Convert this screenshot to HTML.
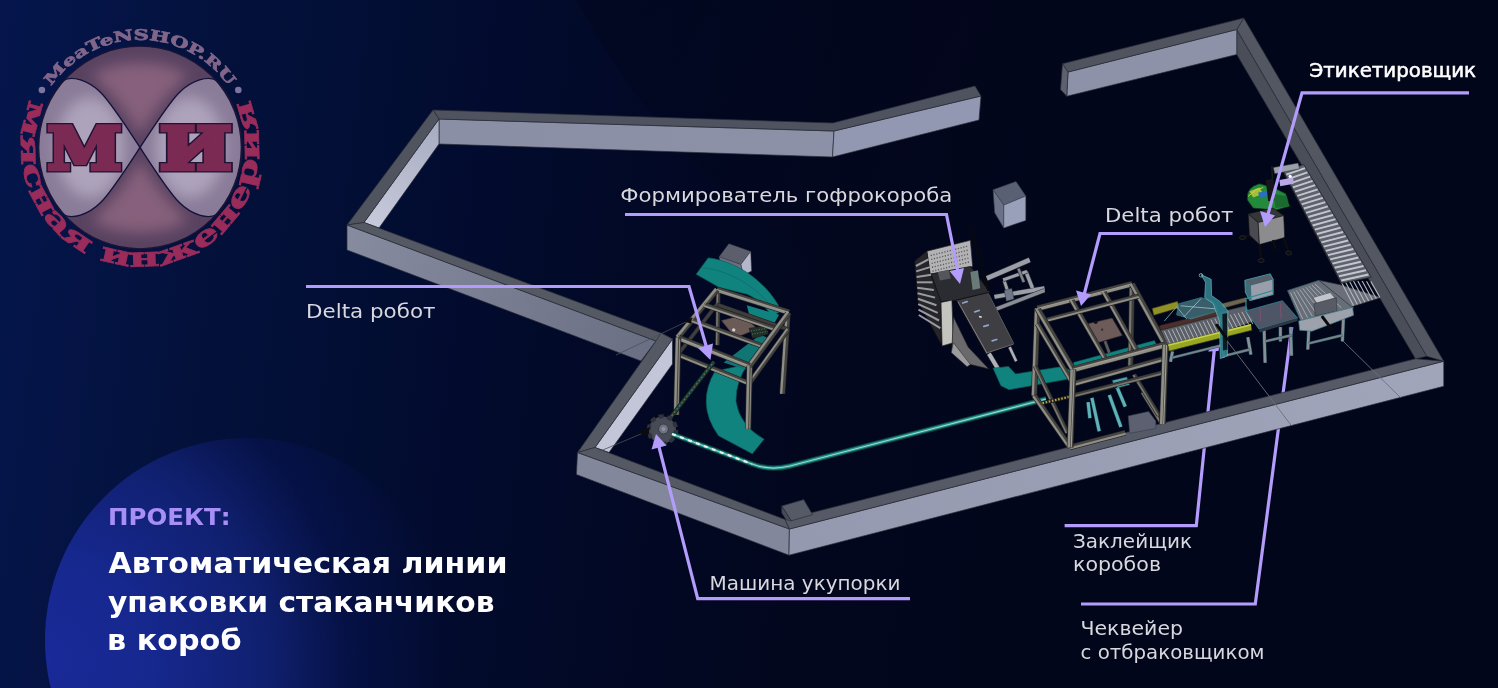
<!DOCTYPE html>
<html lang="ru">
<head>
<meta charset="utf-8">
<title>Автоматическая линии упаковки стаканчиков в короб</title>
<style>
html,body{margin:0;padding:0}
body{width:1498px;height:688px;overflow:hidden;position:relative;background:#02061b;font-family:"DejaVu Sans","Liberation Sans",sans-serif}
#bg{position:absolute;left:0;top:0;width:1498px;height:688px;background:linear-gradient(97deg,#05164d 0%,#03113b 15%,#020c30 30%,#020926 42%,#02071e 55%,#02061a 75%,#02061a 100%)}
#orb{position:absolute;left:45px;top:438px;width:404px;height:404px;border-radius:50%;background:radial-gradient(circle 400px at 0% 55%,#192a99 0%,#16278d 28%,#10206f 55%,rgba(8,20,84,.55) 76%,rgba(3,10,48,0) 100%)}
#orb2{position:absolute;left:496px;top:-1026px;width:1400px;height:1400px;border-radius:50%;background:linear-gradient(120deg,rgba(1,4,22,.7) 0%,rgba(1,4,22,.55) 22%,rgba(1,4,22,.28) 38%,rgba(1,4,22,0) 55%)}
#scene{position:absolute;left:0;top:0;will-change:transform}
.lbl{position:absolute;white-space:nowrap;color:#dcdce2;font-size:20.6px;line-height:24px;font-weight:400}
.h{position:absolute;white-space:nowrap;font-weight:700}
</style>
</head>
<body>
<div id="bg"></div>
<div id="orb"></div>
<div id="orb2"></div>
<svg id="scene" width="1498" height="688" viewBox="0 0 1498 688">
<!--L0-->
<defs>
<radialGradient id="lobeL" cx="98" cy="147.5" r="66" gradientUnits="userSpaceOnUse"><stop offset="0" stop-color="#aaa0b8"/><stop offset="0.6" stop-color="#a297b0"/><stop offset="1" stop-color="#86768f"/></radialGradient>
<radialGradient id="lobeR" cx="182" cy="147.5" r="66" gradientUnits="userSpaceOnUse"><stop offset="0" stop-color="#aaa0b8"/><stop offset="0.6" stop-color="#a297b0"/><stop offset="1" stop-color="#86768f"/></radialGradient>
<radialGradient id="discG" cx="140" cy="147.5" r="101.3" gradientUnits="userSpaceOnUse"><stop offset="0" stop-color="#6b4a66"/><stop offset="0.35" stop-color="#7b566f"/><stop offset="0.8" stop-color="#7d5872"/><stop offset="1" stop-color="#5e4560"/></radialGradient>
<path id="arcTop" d="M32.4,147.5 A107.6,107.6 0 0 1 247.6,147.5"/>
<path id="arcBot" d="M42.5,79.2 A119.0,119.0 0 1 0 237.5,79.2"/>
</defs>
<g id="logo">
<defs>
<filter id="bl8" x="-30%" y="-30%" width="160%" height="160%"><feGaussianBlur stdDeviation="7"/></filter>
<clipPath id="cDisc"><circle cx="140" cy="147.5" r="101.3"/></clipPath>
<clipPath id="cLobes"><path d="M140,147.5 C154,126 169,102.5 179.6,92.2 C192,80 208,75.5 216.5,80.3 A101.3,101.3 0 0 1 216.5,214.7 C208,219.5 192,215.0 179.6,202.8 C169,192.5 154,169.0 140,147.5 Z"/><path d="M140,147.5 C126,126 111,102.5 100.4,92.2 C88,80 72,75.5 63.5,80.3 A101.3,101.3 0 0 0 63.5,214.7 C72,219.5 88,215.0 100.4,202.8 C111,192.5 126,169.0 140,147.5 Z"/></clipPath>
</defs>
<circle cx="140" cy="147.5" r="101.3" fill="#584260"/>
<g clip-path="url(#cDisc)"><g filter="url(#bl8)" fill="#86617c">
<path d="M140,135 C128,115 112,92 92,76 C110,58 170,58 188,76 C168,92 152,115 140,135 Z"/>
<path d="M140,160 C128,180 112,203 92,219 C110,237 170,237 188,219 C168,203 152,180 140,160 Z"/>
</g></g>
<path d="M140,147.5 C154,126 169,102.5 179.6,92.2 C192,80 208,75.5 216.5,80.3 A101.3,101.3 0 0 1 216.5,214.7 C208,219.5 192,215.0 179.6,202.8 C169,192.5 154,169.0 140,147.5 Z" fill="#8a7c99"/>
<path d="M140,147.5 C126,126 111,102.5 100.4,92.2 C88,80 72,75.5 63.5,80.3 A101.3,101.3 0 0 0 63.5,214.7 C72,219.5 88,215.0 100.4,202.8 C111,192.5 126,169.0 140,147.5 Z" fill="#8a7c99"/>
<g clip-path="url(#cLobes)"><g filter="url(#bl8)" fill="#ada3bb">
<ellipse cx="90" cy="147.5" rx="34" ry="50"/>
<ellipse cx="190" cy="147.5" rx="34" ry="50"/>
</g></g>
<path d="M140,147.5 C154,126 169,102.5 179.6,92.2 C192,80 208,75.5 216.5,80.3 A101.3,101.3 0 0 1 216.5,214.7 C208,219.5 192,215.0 179.6,202.8 C169,192.5 154,169.0 140,147.5 Z" fill="none" stroke="#15133a" stroke-width="1.4"/>
<path d="M140,147.5 C126,126 111,102.5 100.4,92.2 C88,80 72,75.5 63.5,80.3 A101.3,101.3 0 0 0 63.5,214.7 C72,219.5 88,215.0 100.4,202.8 C111,192.5 126,169.0 140,147.5 Z" fill="none" stroke="#15133a" stroke-width="1.4"/>
<circle cx="140" cy="147.5" r="101.3" fill="none" stroke="#1a1536" stroke-width="1.3"/>
<g font-family="'DejaVu Serif','Liberation Serif',serif" font-weight="700" font-size="58.5" stroke-linejoin="miter">
<g fill="#211334" stroke="#211334" stroke-width="7"><text x="47.5" y="168.8" textLength="74" lengthAdjust="spacingAndGlyphs">М</text><text x="159.8" y="168.8" textLength="72" lengthAdjust="spacingAndGlyphs">И</text></g>
<g fill="#7b2a53" stroke="#7b2a53" stroke-width="4.4"><text x="47.5" y="168.8" textLength="74" lengthAdjust="spacingAndGlyphs">М</text><text x="159.8" y="168.8" textLength="72" lengthAdjust="spacingAndGlyphs">И</text></g>
</g>
<text font-family="'DejaVu Serif','Liberation Serif',serif" font-weight="700" font-size="14.5" fill="#82668a" stroke="#82668a" stroke-width="0.7"><textPath href="#arcTop" startOffset="50%" text-anchor="middle" textLength="208" lengthAdjust="spacingAndGlyphs">MeaTeNSHOP.RU</textPath></text>
<text font-family="'DejaVu Serif','Liberation Serif',serif" font-weight="700" font-size="27" fill="#992c5a" stroke="#992c5a" stroke-width="0.8"><textPath href="#arcBot" startOffset="50%" text-anchor="middle" textLength="471" lengthAdjust="spacingAndGlyphs">мясная инженерия</textPath></text>
<circle cx="41.9" cy="90" r="3.3" fill="#8073a0"/>
<circle cx="238.3" cy="90" r="3.3" fill="#8073a0"/>
</g>
<!--L1-->
<g id="leaders-under" fill="none" stroke="#b39cfb" stroke-width="3.2" stroke-linejoin="miter">
<polyline points="1064.6,525.7 1196.3,525.7 1214.4,349"/>
<polyline points="1081,604 1255.3,604 1291.8,327"/>
<polygon points="1208,351.5 1211.5,346.5 1219.5,345.5 1218.5,351" fill="#b39cfb" stroke="none"/>
</g>
<g id="walls" stroke-linejoin="round" stroke="#2b2e39" stroke-width="0.7">
<defs>
<linearGradient id="gSW" x1="347" y1="238" x2="650" y2="350" gradientUnits="userSpaceOnUse"><stop offset="0" stop-color="#868ba0"/><stop offset="0.5" stop-color="#787d92"/><stop offset="1" stop-color="#6a6f84"/></linearGradient>
<linearGradient id="gNW" x1="372" y1="225" x2="439" y2="125" gradientUnits="userSpaceOnUse"><stop offset="0" stop-color="#c6c9da"/><stop offset="1" stop-color="#a9adc2"/></linearGradient>
<linearGradient id="gN" x1="439" y1="130" x2="832" y2="145" gradientUnits="userSpaceOnUse"><stop offset="0" stop-color="#8a8fa5"/><stop offset="1" stop-color="#8c91a8"/></linearGradient>
<linearGradient id="gS" x1="790" y1="540" x2="1443" y2="374" gradientUnits="userSpaceOnUse"><stop offset="0" stop-color="#9499af"/><stop offset="1" stop-color="#a0a5ba"/></linearGradient>
</defs>
<!-- north wall -->
<polygon points="439,119 834,131 832.5,157 439,144" fill="url(#gN)"/>
<polygon points="834,131 981,96 979,120 832.5,157" fill="#9298b1"/>
<polygon points="433,110 833,123 975,86 981,96 834,131 439,119" fill="#4f535f"/>
<!-- north-west wall -->
<polygon points="439,119 439,144 379,228 364,222.5" fill="url(#gNW)"/>
<polygon points="433,110 439,119 364,222.5 347,225" fill="#50545f"/>
<!-- south-west wall -->
<polygon points="347,225 656,341 641,361 347,250" fill="url(#gSW)"/>
<polygon points="364,222.5 661,333 672.5,339 656,341 347,225" fill="#555964"/>
<!-- notch wall -->
<polygon points="672.5,339 672.5,364 609,452.5 595,447.5" fill="#c3c6d8"/>
<polygon points="661,333 672.5,339 595,447.5 577.5,452.5 656,341" fill="#555964"/>
<!-- south wall left -->
<polygon points="577.5,452.5 789.4,529 789,555.2 576.4,474.5" fill="#82879b"/>
<polygon points="577.5,452.5 595,447.5 785,519.5 789.4,529" fill="#555964"/>
<!-- south wall right -->
<polygon points="789.4,529 1443.75,361.25 1443.75,386.25 789,555.2" fill="url(#gS)"/>
<polygon points="785,519.5 1415.5,358.75 1443.75,361.25 789.4,529" fill="#565a66"/>
<!-- corner block -->
<polygon points="781.6,506 803.7,499.6 812.6,514.7 791.3,520.8" fill="#565a67"/>
<polygon points="781.6,506 791.3,520.8 786,519.8 781.8,513" fill="#484c58"/>
<!-- east wall -->
<polygon points="1236.75,29.5 1426.75,356.25 1415.5,358.75 1236.75,54.5" fill="#4a4e59"/>
<polygon points="1243.75,18 1443.75,361.25 1426.75,356.25 1236.75,29.5" fill="#535762"/>
<!-- north-east wall -->
<polygon points="1068,72 1236.75,29.5 1236.75,54.5 1066.75,96.25" fill="#8d92a9"/>
<polygon points="1062.5,63.75 1243.75,18 1236.75,29.5 1068,72" fill="#50545f"/>
<polygon points="1062.5,63.75 1068,72 1066.75,96.25 1060.5,89.5" fill="#5d616d"/>
<!-- thin floor lines -->
</g>
<!--M0-->
<g id="machines" stroke-linejoin="round">
<g id="robot1">
<polygon points="719.1,256.8 728.9,243.7 750.7,251.4 740.9,264.4" fill="#5c5f6b" stroke="#3a3d48" stroke-width="0.5"/>
<polygon points="740.9,264.4 750.7,251.4 751.6,271.0 743.1,275.3" fill="#b4b7ca" stroke="#3a3d48" stroke-width="0.5"/>
<polygon points="719.1,256.8 740.9,264.4 743.1,275.3 721.3,267.7" fill="#6a6e80" stroke="#3a3d48" stroke-width="0.5"/>
<path d="M696.2,274.3 L708.2,257.9 C726.7,259.4 759.4,273.2 778.4,305.2 L779.5,311.8 L772.1,316.8 C766.0,307.0 757.2,298.7 747.4,294.3 L719.1,287.3 Z" fill="#11837f" stroke="#0b5e5c" stroke-width="0.7"/>
<path d="M702.7,267.7 C726.7,269.9 757.2,285.2 774.7,311.3" fill="none" stroke="#0d6d6a" stroke-width="0.8"/>
<path d="M715.0,371.2 Q695.8,404.3 718.5,435.7 L752.3,453.8 L764.1,439.2 Q739.4,425.3 735.9,400.9 Q735.9,379.9 748.1,364.2 Z" fill="#11837f" stroke="#0b5e5c" stroke-width="0.7"/>
<polygon points="723.7,362.5 760.3,334.6 769.7,338.8 744.6,369.5" fill="#0f7673"/>
<polyline points="718.3,290.0 717.4,345.1" fill="none" stroke="#23242a" stroke-width="4.6" stroke-linecap="butt"/>
<polyline points="718.3,290.0 717.4,345.1" fill="none" stroke="#3f3e3a" stroke-width="3.4" stroke-linecap="butt"/>
<polyline points="717.5,290.0 716.6,345.1" fill="none" stroke="#77766f" stroke-width="1.564" stroke-linecap="butt"/>
<polyline points="787.6999999999999,314.4 782.3,393.9" fill="none" stroke="#23242a" stroke-width="6.0" stroke-linecap="butt"/>
<polyline points="787.6999999999999,314.4 782.3,393.9" fill="none" stroke="#45443f" stroke-width="4.8" stroke-linecap="butt"/>
<polyline points="786.6,314.3 781.2,393.8" fill="none" stroke="#908f87" stroke-width="2.208" stroke-linecap="butt"/>
<polygon points="746.8,305.2 779.1,314.8 774.3,323.3 749.0,314.0" fill="#11837f"/>
<polygon points="721.3,320.5 742.0,315.3 757.7,328.8 735.4,337.9" fill="#6b5a56" stroke="#2c2826" stroke-width="0.6"/>
<circle cx="733.7" cy="329.9" r="1.7" fill="#d6d2cc"/>
<polygon points="749.0,328.3 766.0,325.5 768.6,334.2 752.4,338.6" fill="#262c2a" stroke="#111" stroke-width="0.4"/>
<polyline points="751.1,331.0 766.8,328.3" fill="none" stroke="#3f9a62" stroke-width="0.9" stroke-dasharray="1 1.6"/>
<polyline points="752.0,334.2 767.7,331.4" fill="none" stroke="#3f9a62" stroke-width="0.9" stroke-dasharray="1 1.6"/>
<polyline points="716.9,304.5 788.1,329.4" fill="none" stroke="#23242a" stroke-width="4.2" stroke-linecap="butt"/>
<polyline points="716.9,304.5 788.1,329.4" fill="none" stroke="#3f3e3a" stroke-width="3" stroke-linecap="butt"/>
<polyline points="677.9,354.5 716.9,304.5" fill="none" stroke="#23242a" stroke-width="4.2" stroke-linecap="butt"/>
<polyline points="677.9,354.5 716.9,304.5" fill="none" stroke="#3f3e3a" stroke-width="3" stroke-linecap="butt"/>
<polyline points="716.9,289.5 788.9,312.4" fill="none" stroke="#23242a" stroke-width="6.0" stroke-linecap="butt"/>
<polyline points="716.9,289.5 788.9,312.4" fill="none" stroke="#45443f" stroke-width="4.8" stroke-linecap="butt"/>
<polyline points="716.6,290.6 788.6,313.5" fill="none" stroke="#908f87" stroke-width="2.208" stroke-linecap="butt"/>
<polyline points="677.6,337.5 716.9,289.5" fill="none" stroke="#23242a" stroke-width="6.0" stroke-linecap="butt"/>
<polyline points="677.6,337.5 716.9,289.5" fill="none" stroke="#45443f" stroke-width="4.8" stroke-linecap="butt"/>
<polyline points="676.7,336.8 716.0,288.8" fill="none" stroke="#908f87" stroke-width="2.208" stroke-linecap="butt"/>
<polyline points="691.7,320.2 763.7,346.6" fill="none" stroke="#23242a" stroke-width="5.2" stroke-linecap="butt"/>
<polyline points="691.7,320.2 763.7,346.6" fill="none" stroke="#45443f" stroke-width="4" stroke-linecap="butt"/>
<polyline points="691.4,321.1 763.4,347.5" fill="none" stroke="#908f87" stroke-width="1.84" stroke-linecap="butt"/>
<polyline points="704.3,304.9 776.3,329.5" fill="none" stroke="#23242a" stroke-width="5.2" stroke-linecap="butt"/>
<polyline points="704.3,304.9 776.3,329.5" fill="none" stroke="#45443f" stroke-width="4" stroke-linecap="butt"/>
<polyline points="704.0,305.8 776.0,330.4" fill="none" stroke="#908f87" stroke-width="1.84" stroke-linecap="butt"/>
<polyline points="788.9,312.4 749.6,365.9" fill="none" stroke="#23242a" stroke-width="6.2" stroke-linecap="butt"/>
<polyline points="788.9,312.4 749.6,365.9" fill="none" stroke="#45443f" stroke-width="5" stroke-linecap="butt"/>
<polyline points="787.9,311.7 748.6,365.2" fill="none" stroke="#908f87" stroke-width="2.3000000000000003" stroke-linecap="butt"/>
<polyline points="677.6,337.5 749.6,365.9" fill="none" stroke="#23242a" stroke-width="6.2" stroke-linecap="butt"/>
<polyline points="677.6,337.5 749.6,365.9" fill="none" stroke="#45443f" stroke-width="5" stroke-linecap="butt"/>
<polyline points="677.2,338.6 749.2,367.0" fill="none" stroke="#908f87" stroke-width="2.3000000000000003" stroke-linecap="butt"/>
<polyline points="716.9,289.5 788.9,312.4" fill="none" stroke="#a09f96" stroke-width="0.9"/>
<polyline points="677.6,337.5 749.6,365.9" fill="none" stroke="#a09f96" stroke-width="1.1"/>
<polyline points="677.6,337.5 716.9,289.5" fill="none" stroke="#8f8e84" stroke-width="0.8"/>
<polyline points="677.9,354.5 749.3000000000001,383.4" fill="none" stroke="#23242a" stroke-width="5.2" stroke-linecap="butt"/>
<polyline points="677.9,354.5 749.3000000000001,383.4" fill="none" stroke="#45443f" stroke-width="4" stroke-linecap="butt"/>
<polyline points="677.5,355.4 748.9,384.3" fill="none" stroke="#908f87" stroke-width="1.84" stroke-linecap="butt"/>
<polyline points="749.3000000000001,383.4 788.1,329.4" fill="none" stroke="#23242a" stroke-width="5.2" stroke-linecap="butt"/>
<polyline points="749.3000000000001,383.4 788.1,329.4" fill="none" stroke="#45443f" stroke-width="4" stroke-linecap="butt"/>
<polyline points="748.5,382.8 787.3,328.8" fill="none" stroke="#908f87" stroke-width="1.84" stroke-linecap="butt"/>
<polyline points="678.2,337.5 676.3,414.8" fill="none" stroke="#23242a" stroke-width="6.2" stroke-linecap="butt"/>
<polyline points="678.2,337.5 676.3,414.8" fill="none" stroke="#45443f" stroke-width="5" stroke-linecap="butt"/>
<polyline points="677.0,337.5 675.1,414.8" fill="none" stroke="#908f87" stroke-width="2.3000000000000003" stroke-linecap="butt"/>
<polyline points="749.6,365.9 748.1,428.7" fill="none" stroke="#23242a" stroke-width="6.4" stroke-linecap="butt"/>
<polyline points="749.6,365.9 748.1,428.7" fill="none" stroke="#45443f" stroke-width="5.2" stroke-linecap="butt"/>
<polyline points="748.4,365.9 746.9,428.7" fill="none" stroke="#908f87" stroke-width="2.3920000000000003" stroke-linecap="butt"/>
<polyline points="679.6,339.5 677.9,414.8" fill="none" stroke="#94938a" stroke-width="0.9"/>
<polyline points="751.2,367.9 749.7,428.7" fill="none" stroke="#94938a" stroke-width="0.9"/>
<polyline points="664.4,425.3 713.9,361.8" fill="none" stroke="#101817" stroke-width="4.4" stroke-linecap="butt"/>
<polyline points="664.4,425.3 713.9,361.8" fill="none" stroke="#1d443f" stroke-width="3.2" stroke-linecap="butt"/>
<polyline points="664.4,425.3 713.9,361.8" fill="none" stroke="#8a6a3a" stroke-width="1.1" stroke-dasharray="1.5 2.5"/>
<polyline points="616,355 688.8,320.6" fill="none" stroke="#4a4f5a" stroke-width="0.8"/>
<polygon points="683.6,321.4 692.3,317.2 690.9,323.4" fill="#0c0c0e"/>
</g>
<g id="capper">
<circle cx="662.5" cy="430" r="13.6" fill="#454954" stroke="#30333b" stroke-width="4.4" stroke-dasharray="5 3.55"/>
<circle cx="662.5" cy="430" r="11.6" fill="#474b56"/>
<circle cx="663.5" cy="429" r="5" fill="#6d7280" stroke="#393c45" stroke-width="1"/>
<circle cx="663.5" cy="429" r="2" fill="#8d93a3"/>
<polyline points="598,452 648,431" fill="none" stroke="#4a4f5a" stroke-width="0.8"/>
<polygon points="636,432 650,427 648,436" fill="#0c0c0e"/>
<path d="M672,434 L752,464 Q770,471 790,466 L1046,399" fill="none" stroke="#0e3f3d" stroke-width="5.5"/>
<path d="M672,434 L752,464 Q770,471 790,466 L1046,399" fill="none" stroke="#1a8f88" stroke-width="3.4"/>
<path d="M672,434 L752,464 Q770,471 790,466 L1046,399" fill="none" stroke="#9fd6cf" stroke-width="1.1"/>
<path d="M672,434 L752,464" fill="none" stroke="#e8efe9" stroke-width="2.2" stroke-dasharray="4 4.5"/>
</g>
<g id="box">
<polygon points="993.1,189.8 1016.0,181.6 1025.8,196.0 1003.8,205.1" fill="#596073" stroke="#3c4150" stroke-width="0.6"/>
<polygon points="993.1,189.8 1003.8,205.1 1003.8,228.0 994.7,212.7" fill="#6b7288" stroke="#3c4150" stroke-width="0.6"/>
<polygon points="1003.8,205.1 1025.8,196.0 1025.8,220.4 1003.8,228.0" fill="#99a0b9" stroke="#3c4150" stroke-width="0.6"/>
</g>
<g id="former">
<polyline points="986.8,278.4 1029.7,259.9" fill="none" stroke="#2b2d33" stroke-width="5.7" stroke-linecap="butt"/>
<polyline points="986.8,278.4 1029.7,259.9" fill="none" stroke="#9b9fa8" stroke-width="4.5" stroke-linecap="butt"/>
<polyline points="994.4,296.9 1044.5,288.2" fill="none" stroke="#2b2d33" stroke-width="5.2" stroke-linecap="butt"/>
<polyline points="994.4,296.9 1044.5,288.2" fill="none" stroke="#9b9fa8" stroke-width="4" stroke-linecap="butt"/>
<polyline points="996.6,308.9 1044.5,290.4" fill="none" stroke="#2b2d33" stroke-width="4.7" stroke-linecap="butt"/>
<polyline points="996.6,308.9 1044.5,290.4" fill="none" stroke="#8a8e98" stroke-width="3.5" stroke-linecap="butt"/>
<polyline points="1004.2,280.6 1009.6,296.9" fill="none" stroke="#2b2d33" stroke-width="4.2" stroke-linecap="butt"/>
<polyline points="1004.2,280.6 1009.6,296.9" fill="none" stroke="#9b9fa8" stroke-width="3" stroke-linecap="butt"/>
<polyline points="1026.0,271.9 1032.5,288.2" fill="none" stroke="#2b2d33" stroke-width="4.7" stroke-linecap="butt"/>
<polyline points="1026.0,271.9 1032.5,288.2" fill="none" stroke="#9b9fa8" stroke-width="3.5" stroke-linecap="butt"/>
<polyline points="1003.1,279.9 1027.1,271.4" fill="none" stroke="#2b2d33" stroke-width="4.2" stroke-linecap="butt"/>
<polyline points="1003.1,279.9 1027.1,271.4" fill="none" stroke="#9b9fa8" stroke-width="3" stroke-linecap="butt"/>
<polyline points="1018.4,268.6 1023.8,282.1" fill="none" stroke="#2b2d33" stroke-width="3.7" stroke-linecap="butt"/>
<polyline points="1018.4,268.6 1023.8,282.1" fill="none" stroke="#7d828c" stroke-width="2.5" stroke-linecap="butt"/>
<polygon points="1004.2,290.4 1011.8,288.2 1014.0,299.1 1006.4,301.3" fill="#6f7687" stroke="#2b2d33" stroke-width="0.5"/>
<polygon points="926.8,251.2 970.4,240.3 972.6,266.4 930.1,274.1" fill="#b3b3b5" stroke="#2a2a2e" stroke-width="0.7"/>
<polyline points="930.7,255.5 968.7,245.9" fill="none" stroke="#5c5c62" stroke-width="1.4" stroke-dasharray="1.2 1.6"/>
<polyline points="931.2,259.4 969.1,249.9" fill="none" stroke="#5c5c62" stroke-width="1.4" stroke-dasharray="1.2 1.6"/>
<polyline points="931.6,263.4 969.5,253.8" fill="none" stroke="#5c5c62" stroke-width="1.4" stroke-dasharray="1.2 1.6"/>
<polyline points="932.0,267.3 970.0,257.7" fill="none" stroke="#5c5c62" stroke-width="1.4" stroke-dasharray="1.2 1.6"/>
<polyline points="932.5,271.2 970.4,261.6" fill="none" stroke="#5c5c62" stroke-width="1.4" stroke-dasharray="1.2 1.6"/>
<polygon points="914.8,261.0 926.8,251.2 930.1,274.1 941.0,301.3 941.0,343.8 918.1,301.3" fill="#26262a" stroke="#18181b" stroke-width="0.7"/>
<polyline points="915.9,266.0 928.5,259.4" fill="none" stroke="#9a9ba1" stroke-width="2.0"/>
<polyline points="916.2,271.4 929.9,267.1" fill="none" stroke="#9a9ba1" stroke-width="2.0"/>
<polyline points="916.6,276.9 931.2,274.7" fill="none" stroke="#9a9ba1" stroke-width="2.0"/>
<polyline points="916.9,282.3 932.5,282.3" fill="none" stroke="#9a9ba1" stroke-width="2.0"/>
<polyline points="917.2,287.8 933.8,290.0" fill="none" stroke="#9a9ba1" stroke-width="2.0"/>
<polyline points="917.5,293.2 935.1,297.6" fill="none" stroke="#9a9ba1" stroke-width="2.0"/>
<polyline points="917.9,298.7 936.4,305.2" fill="none" stroke="#9a9ba1" stroke-width="2.0"/>
<polyline points="918.2,304.1 937.7,312.9" fill="none" stroke="#9a9ba1" stroke-width="2.0"/>
<polyline points="918.5,309.6 939.0,320.5" fill="none" stroke="#9a9ba1" stroke-width="2.0"/>
<polyline points="918.8,315.0 940.3,328.1" fill="none" stroke="#9a9ba1" stroke-width="2.0"/>
<polygon points="931.2,274.1 970.4,266.4 990.0,292.6 956.2,300.2 941.0,301.3" fill="#2b2c31" stroke="#17181b" stroke-width="0.6"/>
<polygon points="937.7,271.9 948.6,269.7 950.8,278.4 939.9,280.6" fill="#55565c"/>
<polygon points="970.4,271.9 978.0,270.3 980.2,288.2 972.6,290.0" fill="#6a7a78"/>
<polygon points="941.0,302.4 951.9,300.2 953.4,342.7 942.1,346.0" fill="#c6c4be" stroke="#2a2a2e" stroke-width="0.7"/>
<polygon points="953.4,316.6 968.2,347.1 988.9,368.9 970.4,364.5 951.9,350.4" fill="#6a6a6c" stroke="#1c1c1e" stroke-width="0.7"/>
<polygon points="953.4,342.7 970.4,364.5 967.1,366.7 951.2,352.5" fill="#9c9c9e" stroke="#222" stroke-width="0.5"/>
<polyline points="988.9,353.6 998.7,370.0" fill="none" stroke="#2b2d33" stroke-width="5.2" stroke-linecap="butt"/>
<polyline points="988.9,353.6 998.7,370.0" fill="none" stroke="#aeb2b8" stroke-width="4" stroke-linecap="butt"/>
<polyline points="1009.6,347.1 1016.2,361.3" fill="none" stroke="#2b2d33" stroke-width="3.7" stroke-linecap="butt"/>
<polyline points="1009.6,347.1 1016.2,361.3" fill="none" stroke="#aeb2b8" stroke-width="2.5" stroke-linecap="butt"/>
<polygon points="956.2,300.2 987.8,292.6 1014.0,343.8 985.7,353.6" fill="#3e3e43" stroke="#121214" stroke-width="1"/>
<polyline points="958.0,301.7 987.0,353.2" fill="none" stroke="#85868c" stroke-width="0.9"/>
<polyline points="988.3,293.5 1013.6,343.4" fill="none" stroke="#6d6e74" stroke-width="0.8"/>
<polyline points="986.1,353.2 1013.6,344.0" fill="none" stroke="#85868c" stroke-width="0.8"/>
<polyline points="962.8,303.0 967.1,301.7" fill="none" stroke="#90a4cf" stroke-width="1.8" stroke-linecap="round"/>
<polyline points="974.8,311.8 979.1,310.5" fill="none" stroke="#90a4cf" stroke-width="1.8" stroke-linecap="round"/>
<polyline points="983.9,326.4 988.3,325.1" fill="none" stroke="#90a4cf" stroke-width="1.8" stroke-linecap="round"/>
<polyline points="992.2,340.8 996.6,339.5" fill="none" stroke="#90a4cf" stroke-width="1.8" stroke-linecap="round"/>
<polyline points="979.1,316.6 981.7,317.2" fill="none" stroke="#e6e6e6" stroke-width="1.5"/>
<polyline points="970.0,225.0 987.0,284.3" fill="none" stroke="#0a0a0c" stroke-width="1.6"/>
<polyline points="984.6,279.5 988.9,290.4" fill="none" stroke="#0a0a0c" stroke-width="3"/>
</g>
<g id="robot2">
<polygon points="993.1,368.2 1008.5,366.5 1015.5,374.0 1062.8,366.5 1073.6,372.3 1073.6,378.1 1009.1,389.7 1000.9,385.7" fill="#11837f" stroke="#0b5e5c" stroke-width="0.7"/>
<polygon points="1073.6,362.4 1154.4,340.6 1157.3,346.1 1073.6,369.4" fill="#11837f" stroke="#0b5e5c" stroke-width="0.5"/>
<polygon points="1128.2,415.9 1148.6,411.5 1155.8,421.1 1155.8,428.4 1129.7,433.3" fill="#5d6070" stroke="#3a3d48" stroke-width="0.6"/>
<polyline points="1132.0,283.9 1130.5,365.9" fill="none" stroke="#23242a" stroke-width="5.7" stroke-linecap="butt"/>
<polyline points="1132.0,283.9 1130.5,365.9" fill="none" stroke="#3f3e3a" stroke-width="4.5" stroke-linecap="butt"/>
<polyline points="1130.9,283.9 1129.4,365.9" fill="none" stroke="#77766f" stroke-width="2.0700000000000003" stroke-linecap="butt"/>
<polyline points="1037.3,308.4 1034.1,395.5" fill="none" stroke="#23242a" stroke-width="6.2" stroke-linecap="butt"/>
<polyline points="1037.3,308.4 1034.1,395.5" fill="none" stroke="#45443f" stroke-width="5" stroke-linecap="butt"/>
<polyline points="1036.1,308.4 1032.9,395.5" fill="none" stroke="#908f87" stroke-width="2.3000000000000003" stroke-linecap="butt"/>
<polyline points="1034.1,395.5 1070.1,447.3" fill="none" stroke="#23242a" stroke-width="5.7" stroke-linecap="butt"/>
<polyline points="1034.1,395.5 1070.1,447.3" fill="none" stroke="#45443f" stroke-width="4.5" stroke-linecap="butt"/>
<polyline points="1033.2,396.1 1069.2,447.9" fill="none" stroke="#908f87" stroke-width="2.0700000000000003" stroke-linecap="butt"/>
<polyline points="1070.1,447.3 1125.3,432.7" fill="none" stroke="#23242a" stroke-width="5.7" stroke-linecap="butt"/>
<polyline points="1070.1,447.3 1125.3,432.7" fill="none" stroke="#45443f" stroke-width="4.5" stroke-linecap="butt"/>
<polyline points="1070.4,448.3 1125.6,433.7" fill="none" stroke="#908f87" stroke-width="2.0700000000000003" stroke-linecap="butt"/>
<polyline points="1162.5,424.0 1142.7,392.1" fill="none" stroke="#23242a" stroke-width="5.2" stroke-linecap="butt"/>
<polyline points="1162.5,424.0 1142.7,392.1" fill="none" stroke="#3f3e3a" stroke-width="4" stroke-linecap="butt"/>
<polyline points="1161.7,424.5 1141.9,392.6" fill="none" stroke="#77766f" stroke-width="1.84" stroke-linecap="butt"/>
<polyline points="1035.2,365.9 1067.2,432.7" fill="none" stroke="#23242a" stroke-width="4.7" stroke-linecap="butt"/>
<polyline points="1035.2,365.9 1067.2,432.7" fill="none" stroke="#3f3e3a" stroke-width="3.5" stroke-linecap="butt"/>
<polyline points="1034.4,366.3 1066.4,433.1" fill="none" stroke="#77766f" stroke-width="1.61" stroke-linecap="butt"/>
<polyline points="1134.0,374.6 1158.7,415.3" fill="none" stroke="#23242a" stroke-width="4.7" stroke-linecap="butt"/>
<polyline points="1134.0,374.6 1158.7,415.3" fill="none" stroke="#3f3e3a" stroke-width="3.5" stroke-linecap="butt"/>
<polyline points="1133.3,375.0 1158.0,415.7" fill="none" stroke="#77766f" stroke-width="1.61" stroke-linecap="butt"/>
<polyline points="1091.9,397.9 1099.2,431.3" fill="none" stroke="#1d4a50" stroke-width="4.0" stroke-linecap="butt"/>
<polyline points="1091.9,397.9 1099.2,431.3" fill="none" stroke="#5fb3b8" stroke-width="3" stroke-linecap="butt"/>
<polyline points="1088.1,402.2 1089.9,418.2" fill="none" stroke="#1d4a50" stroke-width="4.0" stroke-linecap="butt"/>
<polyline points="1088.1,402.2 1089.9,418.2" fill="none" stroke="#5fb3b8" stroke-width="3" stroke-linecap="butt"/>
<polyline points="1109.3,395.0 1120.9,426.9" fill="none" stroke="#1d4a50" stroke-width="4.0" stroke-linecap="butt"/>
<polyline points="1109.3,395.0 1120.9,426.9" fill="none" stroke="#5fb3b8" stroke-width="3" stroke-linecap="butt"/>
<polyline points="1116.6,386.2 1125.3,406.6" fill="none" stroke="#1d4a50" stroke-width="4.0" stroke-linecap="butt"/>
<polyline points="1116.6,386.2 1125.3,406.6" fill="none" stroke="#5fb3b8" stroke-width="3" stroke-linecap="butt"/>
<polygon points="1112.2,380.4 1126.8,376.9 1129.7,384.8 1115.1,388.6" fill="#4fa7ad" stroke="#1d4a50" stroke-width="0.5"/>
<polyline points="1042.5,403.1 1116.6,385.7" fill="none" stroke="#1b1b1b" stroke-width="4"/>
<polyline points="1042.5,403.1 1116.6,385.7" fill="none" stroke="#b9a24a" stroke-width="2.2" stroke-dasharray="1.6 1.6"/>
<polyline points="1037.3,323.8 1073.0,383.9" fill="none" stroke="#23242a" stroke-width="5.2" stroke-linecap="butt"/>
<polyline points="1037.3,323.8 1073.0,383.9" fill="none" stroke="#45443f" stroke-width="4" stroke-linecap="butt"/>
<polyline points="1036.5,324.3 1072.2,384.4" fill="none" stroke="#908f87" stroke-width="1.84" stroke-linecap="butt"/>
<polyline points="1073.0,383.9 1164.8,358.6" fill="none" stroke="#23242a" stroke-width="5.7" stroke-linecap="butt"/>
<polyline points="1073.0,383.9 1164.8,358.6" fill="none" stroke="#45443f" stroke-width="4.5" stroke-linecap="butt"/>
<polyline points="1073.3,384.9 1165.1,359.6" fill="none" stroke="#908f87" stroke-width="2.0700000000000003" stroke-linecap="butt"/>
<polyline points="1073.6,395.5 1164.2,372.3" fill="none" stroke="#23242a" stroke-width="4.7" stroke-linecap="butt"/>
<polyline points="1073.6,395.5 1164.2,372.3" fill="none" stroke="#3f3e3a" stroke-width="3.5" stroke-linecap="butt"/>
<polyline points="1073.8,396.3 1164.4,373.1" fill="none" stroke="#77766f" stroke-width="1.61" stroke-linecap="butt"/>
<polygon points="1087.5,323.8 1112.2,318.0 1122.4,335.4 1097.7,342.7" fill="#6c5b59" stroke="#2c2826" stroke-width="0.6"/>
<circle cx="1095.7" cy="322.3" r="1.8" fill="#111"/>
<circle cx="1102.1" cy="329.6" r="1.2" fill="#3a2f2e"/>
<polyline points="1105.0,341.2 1109.3,352.8" fill="none" stroke="#23242a" stroke-width="3.7" stroke-linecap="butt"/>
<polyline points="1105.0,341.2 1109.3,352.8" fill="none" stroke="#5c5c5c" stroke-width="2.5" stroke-linecap="butt"/>
<polyline points="1037.3,308.4 1132.0,283.9" fill="none" stroke="#23242a" stroke-width="6.2" stroke-linecap="butt"/>
<polyline points="1037.3,308.4 1132.0,283.9" fill="none" stroke="#45443f" stroke-width="5" stroke-linecap="butt"/>
<polyline points="1037.6,309.6 1132.3,285.1" fill="none" stroke="#908f87" stroke-width="2.3000000000000003" stroke-linecap="butt"/>
<polyline points="1132.0,283.9 1165.4,344.7" fill="none" stroke="#23242a" stroke-width="6.2" stroke-linecap="butt"/>
<polyline points="1132.0,283.9 1165.4,344.7" fill="none" stroke="#45443f" stroke-width="5" stroke-linecap="butt"/>
<polyline points="1130.9,284.5 1164.3,345.3" fill="none" stroke="#908f87" stroke-width="2.3000000000000003" stroke-linecap="butt"/>
<polyline points="1071.4,299.6 1106.3,360.5" fill="none" stroke="#23242a" stroke-width="5.4" stroke-linecap="butt"/>
<polyline points="1071.4,299.6 1106.3,360.5" fill="none" stroke="#45443f" stroke-width="4.2" stroke-linecap="butt"/>
<polyline points="1070.5,300.1 1105.4,361.0" fill="none" stroke="#908f87" stroke-width="1.9320000000000002" stroke-linecap="butt"/>
<polyline points="1103.6,291.2 1137.7,352.1" fill="none" stroke="#23242a" stroke-width="5.4" stroke-linecap="butt"/>
<polyline points="1103.6,291.2 1137.7,352.1" fill="none" stroke="#45443f" stroke-width="4.2" stroke-linecap="butt"/>
<polyline points="1102.7,291.7 1136.8,352.6" fill="none" stroke="#908f87" stroke-width="1.9320000000000002" stroke-linecap="butt"/>
<polyline points="1044.4,320.6 1138.7,296.1" fill="none" stroke="#23242a" stroke-width="4.8" stroke-linecap="butt"/>
<polyline points="1044.4,320.6 1138.7,296.1" fill="none" stroke="#45443f" stroke-width="3.6" stroke-linecap="butt"/>
<polyline points="1044.6,321.4 1138.9,296.9" fill="none" stroke="#908f87" stroke-width="1.6560000000000001" stroke-linecap="butt"/>
<polyline points="1037.3,308.4 1073.0,369.4" fill="none" stroke="#23242a" stroke-width="6.2" stroke-linecap="butt"/>
<polyline points="1037.3,308.4 1073.0,369.4" fill="none" stroke="#45443f" stroke-width="5" stroke-linecap="butt"/>
<polyline points="1036.3,309.0 1072.0,370.0" fill="none" stroke="#908f87" stroke-width="2.3000000000000003" stroke-linecap="butt"/>
<polyline points="1073.0,369.4 1165.4,344.7" fill="none" stroke="#23242a" stroke-width="6.7" stroke-linecap="butt"/>
<polyline points="1073.0,369.4 1165.4,344.7" fill="none" stroke="#45443f" stroke-width="5.5" stroke-linecap="butt"/>
<polyline points="1073.3,370.7 1165.7,346.0" fill="none" stroke="#908f87" stroke-width="2.5300000000000002" stroke-linecap="butt"/>
<polyline points="1073.0,369.4 1165.4,344.7" fill="none" stroke="#a09f96" stroke-width="1.2"/>
<polyline points="1037.3,308.4 1132.0,283.9" fill="none" stroke="#a09f96" stroke-width="1"/>
<polyline points="1073.0,369.4 1070.1,447.3" fill="none" stroke="#23242a" stroke-width="6.7" stroke-linecap="butt"/>
<polyline points="1073.0,369.4 1070.1,447.3" fill="none" stroke="#45443f" stroke-width="5.5" stroke-linecap="butt"/>
<polyline points="1071.7,369.4 1068.8,447.3" fill="none" stroke="#908f87" stroke-width="2.5300000000000002" stroke-linecap="butt"/>
<polyline points="1165.4,344.7 1162.5,424.0" fill="none" stroke="#23242a" stroke-width="6.7" stroke-linecap="butt"/>
<polyline points="1165.4,344.7 1162.5,424.0" fill="none" stroke="#45443f" stroke-width="5.5" stroke-linecap="butt"/>
<polyline points="1164.1,344.7 1161.2,424.0" fill="none" stroke="#908f87" stroke-width="2.5300000000000002" stroke-linecap="butt"/>
<polyline points="1074.2,369.4 1071.3,447.3" fill="none" stroke="#a09f96" stroke-width="1.1"/>
<polyline points="1166.6000000000001,344.7 1163.7,424.0" fill="none" stroke="#a09f96" stroke-width="1.1"/>
</g>
<g id="line">
<polyline points="1227.5,341.4 1291.2,425.4" fill="none" stroke="#6b717c" stroke-width="0.9"/>
<polyline points="1343.4,341.4 1400.5,397.5" fill="none" stroke="#6b717c" stroke-width="0.9"/>
<polyline points="1172.5,351.5 1170.5,361.7" fill="none" stroke="#1f5a62" stroke-width="3.6" stroke-linecap="butt"/>
<polyline points="1172.5,351.5 1170.5,361.7" fill="none" stroke="#8a8f96" stroke-width="2.6" stroke-linecap="butt"/>
<polyline points="1222.4,339.3 1223.4,357.6" fill="none" stroke="#1f5a62" stroke-width="3.6" stroke-linecap="butt"/>
<polyline points="1222.4,339.3 1223.4,357.6" fill="none" stroke="#8a8f96" stroke-width="2.6" stroke-linecap="butt"/>
<polyline points="1247.8,337.3 1250.9,354.6" fill="none" stroke="#1f5a62" stroke-width="3.6" stroke-linecap="butt"/>
<polyline points="1247.8,337.3 1250.9,354.6" fill="none" stroke="#8a8f96" stroke-width="2.6" stroke-linecap="butt"/>
<polyline points="1264.1,329.2 1265.1,362.7" fill="none" stroke="#1f5a62" stroke-width="3.6" stroke-linecap="butt"/>
<polyline points="1264.1,329.2 1265.1,362.7" fill="none" stroke="#8a8f96" stroke-width="2.6" stroke-linecap="butt"/>
<polyline points="1290.5,327.1 1291.5,355.6" fill="none" stroke="#1f5a62" stroke-width="3.6" stroke-linecap="butt"/>
<polyline points="1290.5,327.1 1291.5,355.6" fill="none" stroke="#8a8f96" stroke-width="2.6" stroke-linecap="butt"/>
<polyline points="1308.8,329.2 1307.8,349.5" fill="none" stroke="#1f5a62" stroke-width="3.6" stroke-linecap="butt"/>
<polyline points="1308.8,329.2 1307.8,349.5" fill="none" stroke="#8a8f96" stroke-width="2.6" stroke-linecap="butt"/>
<polyline points="1343.4,319.0 1342.4,341.4" fill="none" stroke="#1f5a62" stroke-width="3.6" stroke-linecap="butt"/>
<polyline points="1343.4,319.0 1342.4,341.4" fill="none" stroke="#8a8f96" stroke-width="2.6" stroke-linecap="butt"/>
<polyline points="1280.4,327.1 1280.4,341.4" fill="none" stroke="#1f5a62" stroke-width="3.6" stroke-linecap="butt"/>
<polyline points="1280.4,327.1 1280.4,341.4" fill="none" stroke="#8a8f96" stroke-width="2.6" stroke-linecap="butt"/>
<polyline points="1172.5,357.6 1221.4,345.4" fill="none" stroke="#1f5a62" stroke-width="3.0" stroke-linecap="butt"/>
<polyline points="1172.5,357.6 1221.4,345.4" fill="none" stroke="#7c8188" stroke-width="2" stroke-linecap="butt"/>
<polyline points="1265.1,341.4 1291.5,335.3" fill="none" stroke="#1f5a62" stroke-width="3.0" stroke-linecap="butt"/>
<polyline points="1265.1,341.4 1291.5,335.3" fill="none" stroke="#7c8188" stroke-width="2" stroke-linecap="butt"/>
<polyline points="1308.8,343.4 1342.4,335.3" fill="none" stroke="#1f5a62" stroke-width="3.0" stroke-linecap="butt"/>
<polyline points="1308.8,343.4 1342.4,335.3" fill="none" stroke="#7c8188" stroke-width="2" stroke-linecap="butt"/>
<polyline points="1225.4,355.6 1249.8,349.5" fill="none" stroke="#1f5a62" stroke-width="3.0" stroke-linecap="butt"/>
<polyline points="1225.4,355.6 1249.8,349.5" fill="none" stroke="#7c8188" stroke-width="2" stroke-linecap="butt"/>
<polygon points="1159.3,327.1 1245.8,305.8 1253.9,321.0 1170.5,351.5" fill="#5b5f68" stroke="#2a2d33" stroke-width="0.6"/>
<polyline points="1164.4,331.2 1172.5,348.5" fill="none" stroke="#b9bcc2" stroke-width="0.9"/>
<polyline points="1168.3,330.2 1176.4,347.3" fill="none" stroke="#b9bcc2" stroke-width="0.9"/>
<polyline points="1172.2,329.3 1180.2,346.2" fill="none" stroke="#b9bcc2" stroke-width="0.9"/>
<polyline points="1176.0,328.3 1184.0,345.0" fill="none" stroke="#b9bcc2" stroke-width="0.9"/>
<polyline points="1179.9,327.3 1187.9,343.8" fill="none" stroke="#b9bcc2" stroke-width="0.9"/>
<polyline points="1183.8,326.4 1191.7,342.7" fill="none" stroke="#b9bcc2" stroke-width="0.9"/>
<polyline points="1187.7,325.4 1195.5,341.5" fill="none" stroke="#b9bcc2" stroke-width="0.9"/>
<polyline points="1191.5,324.4 1199.3,340.3" fill="none" stroke="#b9bcc2" stroke-width="0.9"/>
<polyline points="1195.4,323.4 1203.2,339.2" fill="none" stroke="#b9bcc2" stroke-width="0.9"/>
<polyline points="1199.3,322.5 1207.0,338.0" fill="none" stroke="#b9bcc2" stroke-width="0.9"/>
<polyline points="1203.2,321.5 1210.8,336.9" fill="none" stroke="#b9bcc2" stroke-width="0.9"/>
<polyline points="1207.0,320.5 1214.6,335.7" fill="none" stroke="#b9bcc2" stroke-width="0.9"/>
<polyline points="1210.9,319.6 1218.5,334.5" fill="none" stroke="#b9bcc2" stroke-width="0.9"/>
<polyline points="1214.8,318.6 1222.3,333.4" fill="none" stroke="#b9bcc2" stroke-width="0.9"/>
<polyline points="1218.7,317.6 1226.1,332.2" fill="none" stroke="#b9bcc2" stroke-width="0.9"/>
<polyline points="1222.5,316.7 1229.9,331.1" fill="none" stroke="#b9bcc2" stroke-width="0.9"/>
<polyline points="1226.4,315.7 1233.8,329.9" fill="none" stroke="#b9bcc2" stroke-width="0.9"/>
<polyline points="1230.3,314.7 1237.6,328.7" fill="none" stroke="#b9bcc2" stroke-width="0.9"/>
<polyline points="1234.2,313.8 1241.4,327.6" fill="none" stroke="#b9bcc2" stroke-width="0.9"/>
<polyline points="1238.0,312.8 1245.2,326.4" fill="none" stroke="#b9bcc2" stroke-width="0.9"/>
<polyline points="1241.9,311.8 1249.1,325.2" fill="none" stroke="#b9bcc2" stroke-width="0.9"/>
<polyline points="1245.8,310.9 1252.9,324.1" fill="none" stroke="#b9bcc2" stroke-width="0.9"/>
<polygon points="1159.3,325.5 1218.3,310.9 1219.7,315.3 1160.7,330.2" fill="#4a2f2c" stroke="#1c1414" stroke-width="0.5"/>
<polygon points="1152.2,308.4 1177.6,301.3 1179.1,307.8 1153.8,315.3" fill="#8f9026" stroke="#3c3d10" stroke-width="0.6"/>
<polygon points="1168.1,344.4 1250.9,324.1 1251.9,330.2 1168.9,351.1" fill="#98a722" stroke="#3c3d10" stroke-width="0.6"/>
<polygon points="1168.1,344.4 1250.9,324.1 1251.1,325.7 1168.3,346.0" fill="#c7cf4a"/>
<polygon points="1178.6,303.7 1201.0,297.6 1213.2,300.7 1218.3,310.9 1190.9,319.0 1176.6,314.9" fill="#4d7c86" stroke="#3fa3ad" stroke-width="0.7" opacity="0.75"/>
<polyline points="1180.7,305.8 1215.3,308.8" fill="none" stroke="#9fd3d8" stroke-width="0.7"/>
<polyline points="1183.7,317.0 1201.0,298.6" fill="none" stroke="#9fd3d8" stroke-width="0.7"/>
<polyline points="1164.4,321.0 1176.6,306.8 1186.8,319.0" fill="none" stroke="#7db9c0" stroke-width="0.8"/>
<polygon points="1221.4,303.7 1245.8,297.6 1246.8,301.7 1222.4,308.4" fill="#6c6650" stroke="#2a2a20" stroke-width="0.5"/>
<path d="M1201.0,274.6 L1211.2,279.3 L1211.6,295.6 L1220.3,301.7 L1227.9,310.9 L1227.5,355.6 L1220.3,358.7 L1219.3,321.0 L1213.2,303.7 L1204.7,297.6 L1205.5,282.4 Z" fill="#2e7f8a" stroke="#7fd0d8" stroke-width="0.6" opacity="0.92"/>
<circle cx="1201.0" cy="275.3" r="1.8" fill="none" stroke="#8ad4da" stroke-width="0.7"/>
<polygon points="1222.4,313.9 1227.1,313.3 1227.5,349.5 1223.0,350.5" fill="#0c1a22"/>
<polygon points="1244.8,280.3 1270.2,273.8 1273.2,279.3 1273.2,294.6 1249.8,300.7 1245.4,292.5" fill="#3c6f7a" stroke="#54b4bf" stroke-width="0.7"/>
<polygon points="1250.9,285.4 1272.2,279.7 1272.6,294.2 1251.5,300.1" fill="#9a9eab"/>
<polygon points="1245.8,280.7 1269.8,274.6 1272.2,279.3 1250.9,285.0" fill="#55606a"/>
<polygon points="1245.8,310.9 1282.4,300.7 1297.6,318.0 1259.0,329.2" fill="#4d5566" stroke="#2f8f9c" stroke-width="0.7"/>
<polygon points="1259.0,329.2 1297.6,318.0 1297.6,321.0 1259.6,332.4" fill="#2d3844"/>
<polyline points="1273.2,290.5 1245.8,298.6 1246.2,310.9" fill="none" stroke="#2f8f9c" stroke-width="1.2"/>
<polyline points="1260.0,306.8 1260.4,321.0" fill="none" stroke="#8a5070" stroke-width="0.8"/>
<polyline points="1280.4,302.7 1281.0,319.0" fill="none" stroke="#8a5070" stroke-width="0.8"/>
<polygon points="1287.5,290.5 1319.0,280.3 1353.6,307.8 1300.7,321.0" fill="#686e78" stroke="#2a5f68" stroke-width="0.7"/>
<polyline points="1290.5,292.5 1302.7,319.0" fill="none" stroke="#a3a8b0" stroke-width="1.0"/>
<polyline points="1293.6,291.5 1307.6,317.6" fill="none" stroke="#a3a8b0" stroke-width="1.0"/>
<polyline points="1296.6,290.4 1312.4,316.2" fill="none" stroke="#a3a8b0" stroke-width="1.0"/>
<polyline points="1299.7,289.3 1317.2,314.8" fill="none" stroke="#a3a8b0" stroke-width="1.0"/>
<polyline points="1302.7,288.3 1322.1,313.4" fill="none" stroke="#a3a8b0" stroke-width="1.0"/>
<polyline points="1305.8,287.2 1326.9,312.0" fill="none" stroke="#a3a8b0" stroke-width="1.0"/>
<polyline points="1308.8,286.1 1331.7,310.6" fill="none" stroke="#a3a8b0" stroke-width="1.0"/>
<polyline points="1311.9,285.1 1336.6,309.2" fill="none" stroke="#a3a8b0" stroke-width="1.0"/>
<polyline points="1314.9,284.0 1341.4,307.8" fill="none" stroke="#a3a8b0" stroke-width="1.0"/>
<polygon points="1312.9,297.6 1330.2,292.5 1337.3,300.7 1319.0,306.4" fill="#c2c5cb" stroke="#3a3d44" stroke-width="0.5"/>
<polygon points="1313.9,303.7 1336.3,297.6 1336.9,310.9 1315.3,315.9" fill="#565b66" stroke="#2a2d33" stroke-width="0.5"/>
<polygon points="1298.7,321.0 1352.6,307.4 1353.6,315.3 1311.9,331.2 1299.7,330.2" fill="#9da1ac" stroke="#3d7c86" stroke-width="0.7"/>
<polygon points="1319.0,280.3 1340.4,284.8 1381.0,297.6 1351.6,306.8" fill="#6a6f79" stroke="#2a2d33" stroke-width="0.6"/>
<polyline points="1340.4,280.3 1353.6,305.8" fill="none" stroke="#b4b8c0" stroke-width="1.1"/>
<polyline points="1344.7,280.5 1357.4,304.6" fill="none" stroke="#b4b8c0" stroke-width="1.1"/>
<polyline points="1349.1,280.6 1361.1,303.4" fill="none" stroke="#b4b8c0" stroke-width="1.1"/>
<polyline points="1353.4,280.8 1364.9,302.3" fill="none" stroke="#b4b8c0" stroke-width="1.1"/>
<polyline points="1357.8,280.9 1368.7,301.1" fill="none" stroke="#b4b8c0" stroke-width="1.1"/>
<polyline points="1362.2,281.1 1372.5,300.0" fill="none" stroke="#b4b8c0" stroke-width="1.1"/>
<polyline points="1366.5,281.2 1376.3,298.8" fill="none" stroke="#b4b8c0" stroke-width="1.1"/>
<polyline points="1370.9,281.4 1380.0,297.6" fill="none" stroke="#b4b8c0" stroke-width="1.1"/>
<polygon points="1214.9,324.7 1217.7,323.5 1229.1,339.7 1226.5,341.0" fill="#0a0a0c"/>
<polygon points="1320.6,317.0 1323.1,315.3 1333.7,329.2 1331.2,330.8" fill="#0a0a0c"/>
</g>
<g id="incline">
<polygon points="1283.2,171.3 1303.7,164.5 1371.3,277.2 1341.3,283.2" fill="#5d626c" stroke="#23252b" stroke-width="0.8"/>
<polyline points="1286.3,174.6 1305.0,168.1" fill="none" stroke="#c3c6ce" stroke-width="1.9"/>
<polyline points="1288.5,178.9 1307.5,172.4" fill="none" stroke="#c3c6ce" stroke-width="1.9"/>
<polyline points="1290.7,183.1 1310.1,176.7" fill="none" stroke="#c3c6ce" stroke-width="1.9"/>
<polyline points="1292.9,187.4 1312.6,180.9" fill="none" stroke="#c3c6ce" stroke-width="1.9"/>
<polyline points="1295.1,191.6 1315.2,185.2" fill="none" stroke="#c3c6ce" stroke-width="1.9"/>
<polyline points="1297.3,195.8 1317.7,189.4" fill="none" stroke="#c3c6ce" stroke-width="1.9"/>
<polyline points="1299.5,200.1 1320.2,193.7" fill="none" stroke="#c3c6ce" stroke-width="1.9"/>
<polyline points="1301.7,204.3 1322.8,197.9" fill="none" stroke="#c3c6ce" stroke-width="1.9"/>
<polyline points="1303.9,208.5 1325.3,202.2" fill="none" stroke="#c3c6ce" stroke-width="1.9"/>
<polyline points="1306.1,212.8 1327.9,206.4" fill="none" stroke="#c3c6ce" stroke-width="1.9"/>
<polyline points="1308.3,217.0 1330.4,210.7" fill="none" stroke="#c3c6ce" stroke-width="1.9"/>
<polyline points="1310.4,221.2 1333.0,215.0" fill="none" stroke="#c3c6ce" stroke-width="1.9"/>
<polyline points="1312.6,225.5 1335.5,219.2" fill="none" stroke="#c3c6ce" stroke-width="1.9"/>
<polyline points="1314.8,229.7 1338.0,223.5" fill="none" stroke="#c3c6ce" stroke-width="1.9"/>
<polyline points="1317.0,234.0 1340.6,227.7" fill="none" stroke="#c3c6ce" stroke-width="1.9"/>
<polyline points="1319.2,238.2 1343.1,232.0" fill="none" stroke="#c3c6ce" stroke-width="1.9"/>
<polyline points="1321.4,242.4 1345.7,236.2" fill="none" stroke="#c3c6ce" stroke-width="1.9"/>
<polyline points="1323.6,246.7 1348.2,240.5" fill="none" stroke="#c3c6ce" stroke-width="1.9"/>
<polyline points="1325.8,250.9 1350.7,244.7" fill="none" stroke="#c3c6ce" stroke-width="1.9"/>
<polyline points="1328.0,255.1 1353.3,249.0" fill="none" stroke="#c3c6ce" stroke-width="1.9"/>
<polyline points="1330.2,259.4 1355.8,253.3" fill="none" stroke="#c3c6ce" stroke-width="1.9"/>
<polyline points="1332.4,263.6 1358.4,257.5" fill="none" stroke="#c3c6ce" stroke-width="1.9"/>
<polyline points="1334.6,267.8 1360.9,261.8" fill="none" stroke="#c3c6ce" stroke-width="1.9"/>
<polyline points="1336.8,272.1 1363.5,266.0" fill="none" stroke="#c3c6ce" stroke-width="1.9"/>
<polyline points="1339.0,276.3 1366.0,270.3" fill="none" stroke="#c3c6ce" stroke-width="1.9"/>
<polyline points="1341.2,280.5 1368.5,274.5" fill="none" stroke="#c3c6ce" stroke-width="1.9"/>
<polyline points="1283.2,171.3 1341.3,283.2" fill="none" stroke="#2a2c33" stroke-width="1.2"/>
<polygon points="1273.2,167.5 1298.2,163.0 1299.5,168.8 1274.7,173.8" fill="#9aa0a8" stroke="#2a2c33" stroke-width="0.5"/>
<polygon points="1279.4,180.0 1293.2,177.5 1293.7,183.8 1280.2,186.3" fill="#b8a8e8"/>
<circle cx="1290.2" cy="176.3" r="1.6" fill="#fff"/>
<polyline points="1271.9,166.3 1272.7,182.5" fill="none" stroke="#1a1a1c" stroke-width="1.6"/>
<path d="M1247.4,200.1 Q1245.7,187.5 1259.4,183.8 L1273.2,187.5 L1285.7,193.8 L1289.5,206.3 L1275.7,210.1 L1253.2,208.1 Z" fill="#23893b" stroke="#0d3d1c" stroke-width="0.7"/>
<polygon points="1249.4,191.3 1259.4,187.5 1263.2,193.8 1253.2,197.6" fill="#9fc23a"/>
<polygon points="1258.2,192.6 1266.9,191.3 1268.2,196.3 1259.4,197.6" fill="#2a6fc0"/>
<polygon points="1265.7,180.0 1273.2,178.8 1275.7,200.1 1268.2,201.3" fill="#15161a"/>
<polyline points="1248.2,196.3 1255.7,190.1 1263.2,187.5" fill="none" stroke="#e0d040" stroke-width="0.9"/>
<polygon points="1273.2,193.8 1287.0,196.3 1288.2,206.3 1275.7,208.1" fill="#1b6a30"/>
<polygon points="1248.2,213.8 1273.2,208.1 1283.7,215.6 1258.2,222.6" fill="#35363a" stroke="#111" stroke-width="0.6"/>
<polygon points="1248.2,213.8 1258.2,222.6 1259.4,244.6 1249.4,235.1" fill="#4a4b50" stroke="#111" stroke-width="0.6"/>
<polygon points="1258.2,222.6 1283.7,215.6 1284.7,237.6 1259.4,244.6" fill="#8c8c8e" stroke="#111" stroke-width="0.6"/>
<polyline points="1259.4,244.6 1261.2,260.1" fill="none" stroke="#0d0d0f" stroke-width="2.4"/>
<polyline points="1283.7,237.6 1288.7,252.6" fill="none" stroke="#0d0d0f" stroke-width="2.4"/>
<polyline points="1249.4,235.1 1243.2,237.6" fill="none" stroke="#0d0d0f" stroke-width="2.4"/>
<polyline points="1273.2,240.1 1275.2,248.9" fill="none" stroke="#0d0d0f" stroke-width="2.4"/>
<ellipse cx="1261.2" cy="260.6" rx="3" ry="2" fill="#0d0d0f" stroke="#3a3a40" stroke-width="0.5"/>
<ellipse cx="1288.7" cy="253.1" rx="3" ry="2" fill="#0d0d0f" stroke="#3a3a40" stroke-width="0.5"/>
<ellipse cx="1242.6" cy="237.6" rx="3" ry="2" fill="#0d0d0f" stroke="#3a3a40" stroke-width="0.5"/>
</g>
</g>
<!--M1-->
<g id="leaders" fill="none" stroke="#b39cfb" stroke-width="3.2" stroke-linejoin="miter">
<polyline points="306,286.5 689,286.5 707,349"/>
<polyline points="625,214.5 946.5,214.5 958,272"/>
<polyline points="1232.5,233.5 1100,233.5 1084,295"/>
<polyline points="1469,92.8 1302,92.8 1267.5,216"/>
<polyline points="910,598.6 697.7,598.6 658.5,445"/>
</g>
<g id="heads" fill="#b39cfb">
<polygon points="710.4,360 698,348 713,343.5"/>
<polygon points="960,284 949.5,271 964,268"/>
<polygon points="1081,306 1076,290.5 1091,294.5"/>
<polygon points="1265,227 1260,211 1275,215.5"/>
<polygon points="656,434 666.5,445.5 651.5,449.5"/>
</g>
<g id="labels" font-family="'DejaVu Sans','Liberation Sans',sans-serif" font-size="19.2" fill="#d8d8de">
<text x="306" y="318" textLength="129.5" lengthAdjust="spacingAndGlyphs">Delta робот</text>
<text x="620.3" y="202" textLength="332" lengthAdjust="spacingAndGlyphs">Формирователь гофрокороба</text>
<text x="1105" y="222" textLength="128.5" lengthAdjust="spacingAndGlyphs">Delta робот</text>
<text x="1309.5" y="76.5" textLength="166.5" lengthAdjust="spacingAndGlyphs" font-size="18.6" fill="#fff" stroke="#fff" stroke-width="0.55">Этикетировщик</text>
<text x="709.5" y="590" textLength="191" lengthAdjust="spacingAndGlyphs" font-size="18.6">Машина укупорки</text>
<text x="1073" y="547.8" textLength="119" lengthAdjust="spacingAndGlyphs" font-size="18.8">Заклейщик</text>
<text x="1073" y="571" textLength="88" lengthAdjust="spacingAndGlyphs" font-size="18.8">коробов</text>
<text x="1080.5" y="635.2" textLength="102.5" lengthAdjust="spacingAndGlyphs" font-size="18.8">Чеквейер</text>
<text x="1080.5" y="658.5" textLength="184" lengthAdjust="spacingAndGlyphs" font-size="18.8">с отбраковщиком</text>
</g>
<g id="heading" font-family="'DejaVu Sans','Liberation Sans',sans-serif" font-weight="700" fill="#fff" font-size="28.3">
<text x="108" y="525" textLength="122.5" lengthAdjust="spacingAndGlyphs" font-size="23.2" fill="#a88ff6">ПРОЕКТ:</text>
<text x="108.5" y="573" textLength="399" lengthAdjust="spacingAndGlyphs">Автоматическая линии</text>
<text x="108" y="612" textLength="386.5" lengthAdjust="spacingAndGlyphs">упаковки стаканчиков</text>
<text x="107" y="650" textLength="134.5" lengthAdjust="spacingAndGlyphs">в короб</text>
</g>
</svg>
</body>
</html>
